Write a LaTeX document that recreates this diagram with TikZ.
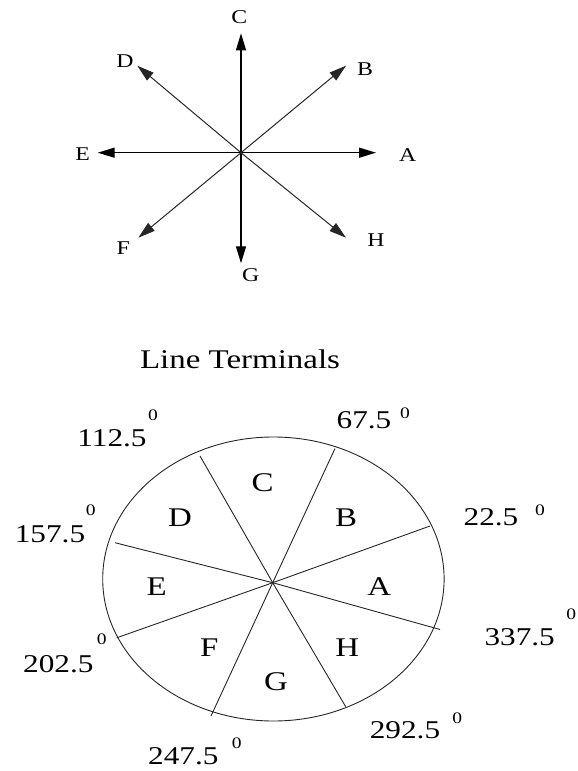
\documentclass[tikz,border=0pt]{standalone}
\usepackage{fontspec}
\setmainfont{Liberation Serif}
\usetikzlibrary{arrows.meta,shapes.geometric}
\newcommand{\sx}[1]{\scalebox{1.22}[1]{#1}}
\begin{document}
\begin{tikzpicture}[x=1pt,y=-1pt,
  lbl/.style={inner sep=0pt, font=\fontsize{19.5}{22}\selectfont},
  num/.style={inner sep=0pt, font=\fontsize{25.6}{30}\selectfont},
  deg/.style={inner sep=0pt, font=\fontsize{16}{18}\selectfont},
  sect/.style={inner sep=0pt, font=\fontsize{27}{30}\selectfont},
  ttl/.style={inner sep=0pt, font=\fontsize{27}{30}\selectfont},
  axis/.style={line width=1.3pt, -{Triangle[length=17pt,width=10pt]}},
  diag/.style={line width=1pt, draw=black!85, -{Triangle[length=17pt,width=10pt]}},
  spoke/.style={line width=0.9pt, draw=black!85},
  rim/.style={draw=black!85, line width=0.9pt, ellipse, inner sep=0pt}]
\useasboundingbox (0,0) rectangle (578,771);
% ---- compass star ----
\coordinate (O) at (241,152.7);
\coordinate (tA) at (376,152.7);
\coordinate (tB) at (346,65.7);
\coordinate (tC) at (241,33.3);
\coordinate (tD) at (137.3,65.7);
\coordinate (tE) at (97.7,152.7);
\coordinate (tF) at (138.3,237.7);
\coordinate (tG) at (241,263.3);
\coordinate (tH) at (346,237.7);
\draw[axis] (O) -- (tA);
\draw[axis] (O) -- (tC);
\draw[axis] (O) -- (tE);
\draw[axis] (O) -- (tG);
\draw[diag] (O) -- (tB);
\draw[diag] (O) -- (tD);
\draw[diag] (O) -- (tF);
\draw[diag] (O) -- (tH);
\node[lbl] (lA) at (407.7,155) {\sx{A}};
\node[lbl] (lB) at (365,69.3) {\sx{B}};
\node[lbl] (lC) at (239.3,16.7) {\sx{C}};
\node[lbl] (lD) at (125,60.7) {\sx{D}};
\node[lbl] (lE) at (82.7,154) {\sx{E}};
\node[lbl] (lF) at (123.3,248.3) {\sx{F}};
\node[lbl] (lG) at (250.7,275) {\sx{G}};
\node[lbl] (lH) at (376,240) {\sx{H}};
% ---- title ----
\node[ttl] (title) at (240,359.5) {\sx{Line Terminals}};
% ---- terminal circle ----
\node[rim, minimum width=341.4pt, minimum height=284pt] (circ) at (273.4,579) {};
\coordinate (P) at (272.7,582.7);
\coordinate (e22) at (430,526);
\coordinate (e67) at (335,448.5);
\coordinate (e112) at (200,456);
\coordinate (e157) at (115,542.7);
\coordinate (e202) at (116.7,637.8);
\coordinate (e247) at (211,716);
\coordinate (e292) at (345.7,706.7);
\coordinate (e337) at (440,629.5);
\foreach \e in {e22,e67,e112,e157,e202,e247,e292,e337}
  \draw[spoke] (P) -- (\e);
\node[sect] (sA) at (379.3,586.7) {\sx{A}};
\node[sect] (sB) at (346,517.3) {\sx{B}};
\node[sect] (sC) at (262.7,482.7) {\sx{C}};
\node[sect] (sD) at (180,517.3) {\sx{D}};
\node[sect] (sE) at (156.7,586.7) {\sx{E}};
\node[sect] (sF) at (209.3,647.3) {\sx{F}};
\node[sect] (sG) at (276,681.7) {\sx{G}};
\node[sect] (sH) at (347.3,647.3) {\sx{H}};
% ---- angle labels ----
\node[num] (n22) at (491,517.3) {\sx{22.5}};
\node[deg] (d22) at (540,510) {\sx{0}};
\node[num] (n67) at (364,420) {\sx{67.5}};
\node[deg] (d67) at (405,413.3) {\sx{0}};
\node[num] (n112) at (112,438) {\sx{112.5}};
\node[deg] (d112) at (153,415) {\sx{0}};
\node[num] (n157) at (50,534) {\sx{157.5}};
\node[deg] (d157) at (90.7,510) {\sx{0}};
\node[num] (n202) at (58.3,664) {\sx{202.5}};
\node[deg] (d202) at (101.7,639.3) {\sx{0}};
\node[num] (n247) at (183.3,756) {\sx{247.5}};
\node[deg] (d247) at (236.7,743.3) {\sx{0}};
\node[num] (n292) at (405,730) {\sx{292.5}};
\node[deg] (d292) at (457.3,718.3) {\sx{0}};
\node[num] (n337) at (519.7,637.3) {\sx{337.5}};
\node[deg] (d337) at (571.3,614) {\sx{0}};
\end{tikzpicture}
\end{document}
